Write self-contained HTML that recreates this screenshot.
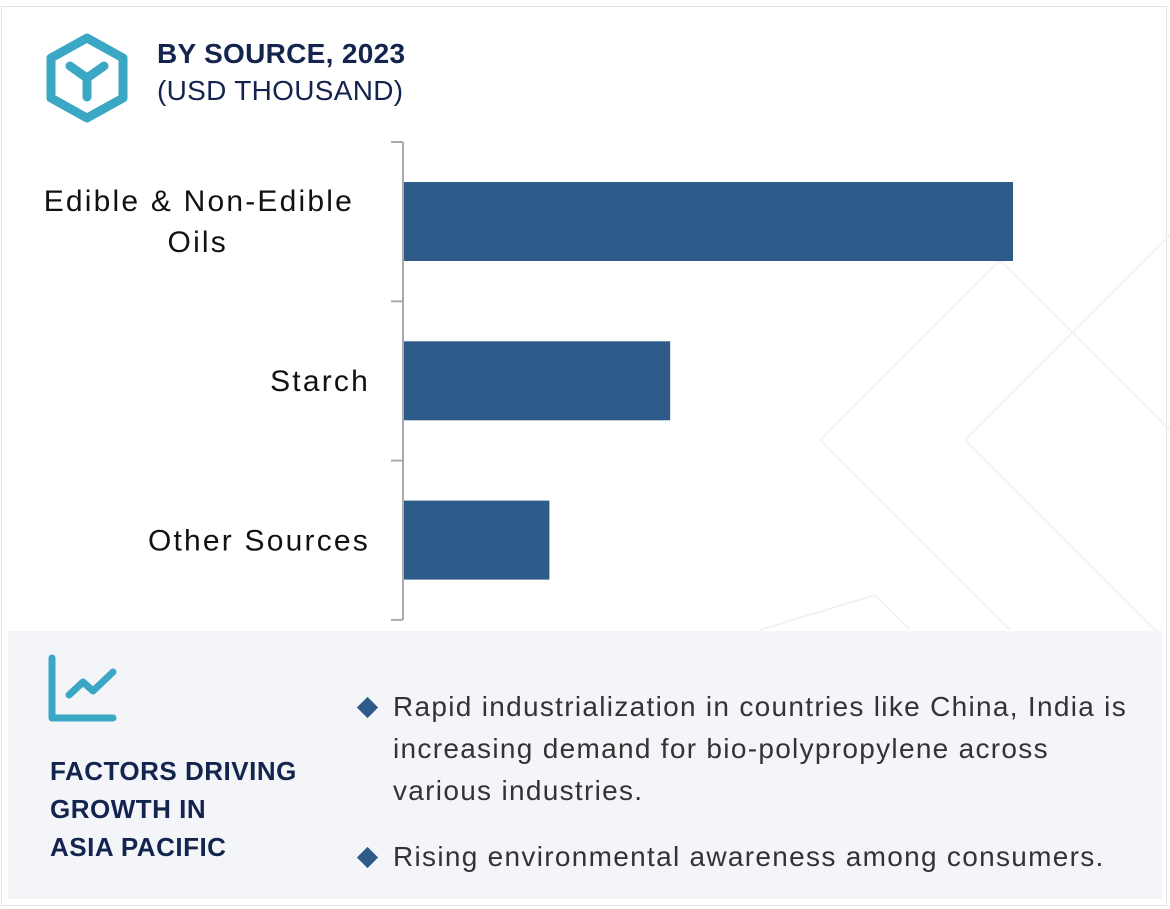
<!DOCTYPE html>
<html><head><meta charset="utf-8"><style>
body{margin:0;width:1170px;height:909px;background:#fff;font-family:"Liberation Sans",Arial,sans-serif;position:relative;overflow:hidden}
.frame{position:absolute;left:1px;top:6px;width:1166px;height:900px;border:1px solid #e2e2e8;box-sizing:border-box}
.t1{position:absolute;left:157px;top:38px;font-size:28px;font-weight:bold;color:#13254f;letter-spacing:0.3px}
.t2{position:absolute;left:157px;top:75px;font-size:28px;color:#13254f;letter-spacing:0.3px}
.panel{position:absolute;left:8px;top:631px;width:1154px;height:268px;background:#f3f5f9}
.ft{position:absolute;left:50px;top:752px;font-size:26px;font-weight:bold;color:#13254f;line-height:38px;letter-spacing:0.5px}
.b{position:absolute;left:393px;font-size:28px;color:#333;line-height:42px;letter-spacing:1.3px;white-space:nowrap}
.d{position:absolute;left:360px;width:15px;height:15px;background:#2e5b8a;transform:rotate(45deg)}
</style></head><body>
<div class="frame"></div>
<svg style="position:absolute;left:0;top:0" width="1170" height="909">
<g stroke="#f1f2f4" stroke-width="2" fill="none">
<polyline points="820,440 1000,260 1170,430"/><polyline points="820,440 1010,630"/>
<polyline points="965,440 1170,235"/><polyline points="965,440 1160,635"/>
<polyline points="760,630 875,595 910,630"/>
</g></svg>
<svg style="position:absolute;left:45px;top:33px" width="84" height="90">
<polygon points="42,5 78,25 78,65 42,85 6,65 6,25" fill="none" stroke="#3aa8c5" stroke-width="9" stroke-linejoin="round"/>
<path d="M25,33 L42,45 L59,33 M42,45 L42,64" stroke="#3aa8c5" stroke-width="9" stroke-linecap="round" fill="none"/>
</svg>
<div class="t1">BY SOURCE, 2023</div>
<div class="t2">(USD THOUSAND)</div>
<svg id="chart" style="position:absolute;left:0;top:0" width="1170" height="630"></svg>
<div class="panel"></div>
<svg style="position:absolute;left:45px;top:653px" width="75" height="72">
<path d="M7,5 L7,65 L68,65" stroke="#3aa8c5" stroke-width="7" stroke-linecap="round" stroke-linejoin="round" fill="none"/>
<path d="M24,42 L38,29 L48,38 L68,19" stroke="#3aa8c5" stroke-width="7" stroke-linecap="round" stroke-linejoin="round" fill="none"/>
</svg>
<div class="ft">FACTORS DRIVING<br>GROWTH IN<br>ASIA PACIFIC</div>
<div class="d" style="top:700px"></div>
<div class="b" style="top:686px">Rapid industrialization in countries like China, India is<br>increasing demand for bio-polypropylene across<br>various industries.</div>
<div class="d" style="top:850px"></div>
<div class="b" style="top:836px">Rising environmental awareness among consumers.</div>
<script>
const categories=[["Edible & Non-Edible","Oils"],["Starch"],["Other Sources"]];
const values=[100,43.8,24];
const svg=document.getElementById('chart');
const NS='http://www.w3.org/2000/svg';
const x0=403,scale=6.1,top0=142,band=159.3;
const x=v=>x0+v*scale;
function mk(t,a){const e=document.createElementNS(NS,t);for(const k in a)e.setAttribute(k,a[k]);svg.appendChild(e);return e;}
const ax=mk('line',{x1:x0,y1:top0,x2:x0,y2:top0+band*3,stroke:'#aaa','stroke-width':2});


for(let i=0;i<=3;i++){const t=mk('line',{x1:391,x2:x0,y1:top0+band*i,y2:top0+band*i,stroke:'#aaa','stroke-width':2});

}
values.forEach((v,i)=>{
 const y=top0+band*i+40;
 const r=mk('rect',{x:x0+1,y:y,width:x(v)-x0-1,height:79,fill:'#2e5b8a'});
 
 
 const lines=categories[i];const cy=top0+band*i+band/2;
 lines.forEach((s,j)=>{
  const tx=mk('text',{x:lines.length>1?(j==0?354:228):370,y:cy+10+(j-(lines.length-1)/2)*41,'text-anchor':'end','font-size':30,fill:'#111','font-family':'Liberation Sans, Arial, sans-serif','letter-spacing':'2.2'});
  tx.textContent=s;
  
  
 });
});
</script>
</body></html>
